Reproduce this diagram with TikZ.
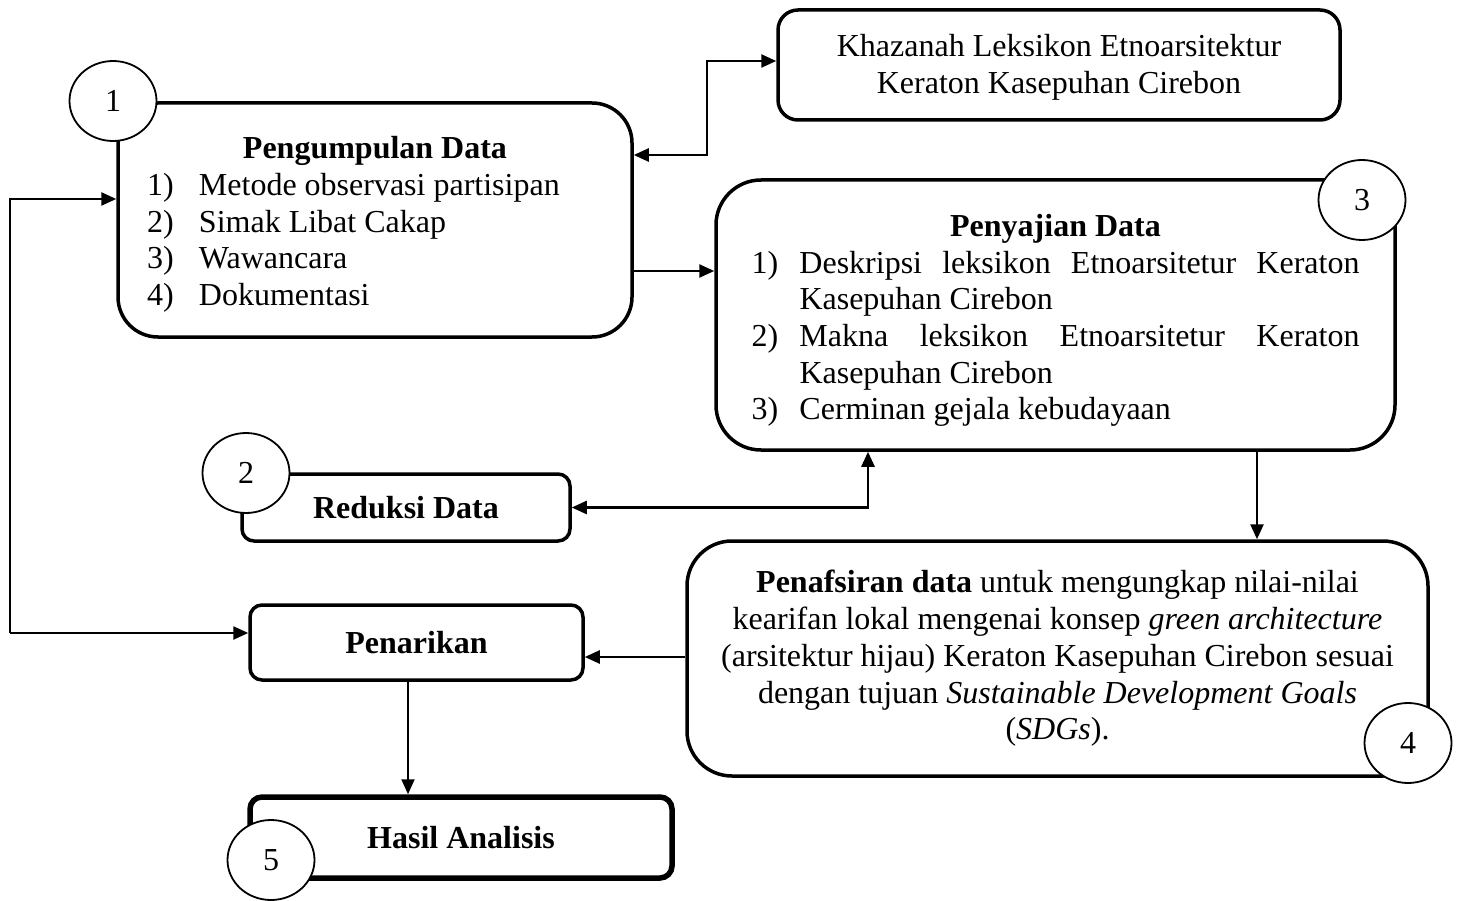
\documentclass[tikz,border=0pt]{standalone}
\usepackage{fontspec}
\setmainfont{Liberation Serif}
\usetikzlibrary{arrows.meta,shapes.geometric}
\newcommand\myitem[3]{\par\noindent\makebox[#1][l]{#2}#3}
\newcommand\lowered[2]{\raisebox{-#1}[\height][\depth]{#2}}
\tikzset{
  box/.style={draw, line width=3.5pt, inner sep=0pt, align=center},
  num/.style={draw, ellipse, fill=white, line width=1.8pt, minimum width=87pt, minimum height=80pt, inner sep=0pt},
  conn/.style={line width=2.5pt, -{Triangle[length=15pt,width=13pt]}},
  bi/.style={line width=2.5pt, {Triangle[length=15pt,width=13pt]}-{Triangle[length=15pt,width=13pt]}},
}
\begin{document}
\begin{tikzpicture}[x=1pt,y=-1pt,font=\fontsize{32pt}{36.7pt}\selectfont]
\useasboundingbox (0,0) rectangle (1459,901);
% boxes
\node[box, rounded corners=40pt, minimum width=514pt, minimum height=234pt] (pd) at (375,220)
 {\lowered{4.5pt}{\parbox{456pt}{\centering\textbf{Pengumpulan Data}\par\raggedright
  \myitem{52pt}{1)}{Metode observasi partisipan}
  \myitem{52pt}{2)}{Simak Libat Cakap}
  \myitem{52pt}{3)}{Wawancara}
  \myitem{52pt}{4)}{Dokumentasi}}}};
\node[box, rounded corners=20pt, minimum width=562pt, minimum height=110pt] (kh) at (1059,65)
 {\lowered{2.5pt}{\begin{tabular}{@{}c@{}}Khazanah Leksikon Etnoarsitektur\\Keraton Kasepuhan Cirebon\end{tabular}}};
\node[box, rounded corners=45pt, minimum width=679pt, minimum height=270pt] (pj) at (1055.5,315)
 {\lowered{5.5pt}{\parbox{608pt}{\centering\textbf{Penyajian Data}\par\raggedright
  \myitem{48pt}{1)}{\makebox[560pt][s]{Deskripsi leksikon Etnoarsitetur Keraton}}
  \par\noindent\hspace*{48pt}Kasepuhan Cirebon
  \myitem{48pt}{2)}{\makebox[560pt][s]{Makna leksikon Etnoarsitetur Keraton}}
  \par\noindent\hspace*{48pt}Kasepuhan Cirebon
  \myitem{48pt}{3)}{Cerminan gejala kebudayaan}}}};
\node[box, rounded corners=12pt, minimum width=328pt, minimum height=67pt] (rd) at (406,507.5)
 {\textbf{Reduksi Data}};
\node[box, rounded corners=45pt, minimum width=741pt, minimum height=235pt] (pf) at (1057.5,658.5)
 {\textbf{Penafsiran data} untuk mengungkap nilai-nilai\\
  kearifan lokal mengenai konsep \textit{green architecture}\\
  (arsitektur hijau) Keraton Kasepuhan Cirebon sesuai\\
  dengan tujuan \textit{Sustainable Development Goals}\\
  (\textit{SDGs}).};
\node[box, rounded corners=12pt, minimum width=333pt, minimum height=75pt] (pn) at (416.5,642.5)
 {\textbf{Penarikan}};
\node[box, line width=5.5pt, rounded corners=12pt, minimum width=422pt, minimum height=81pt] (hs) at (461,837.5)
 {\textbf{Hasil Analisis}};
% helper coordinates
\coordinate (k1) at (707,155);
\coordinate (k2) at (0,271);
\coordinate (k3) at (868,0);
\coordinate (k4) at (1257,0);
\coordinate (k5) at (0,657);
\coordinate (fb) at (10,633);
\coordinate (k6) at (0,199);
\coordinate (k7) at (408,0);
\coordinate (k8) at (0,61);
% connectors
\draw[bi] (pd.east |- k1) -- (k1) |- (kh.west |- k8);
\draw[conn] (pd.east |- k2) -- (pj.west |- k2);
\draw[bi] (rd.east) -| (k3 |- pj.south);
\draw[conn] (k4 |- pj.south) -- (k4 |- pf.north);
\draw[conn] (pf.west |- k5) -- (pn.east |- k5);
\draw[conn] (fb) -- (pn.west |- fb);
\draw[conn] (fb) |- (pd.west |- k6);
\draw[conn, line width=2pt] (k7 |- pn.south) -- (k7 |- hs.north);
% number circles
\node[num] (c1) at (113,101) {1};
\node[num] (c2) at (246,473) {2};
\node[num] (c3) at (1362,200) {3};
\node[num] (c4) at (1408,743) {4};
\node[num] (c5) at (271,860) {5};
\end{tikzpicture}
\end{document}
